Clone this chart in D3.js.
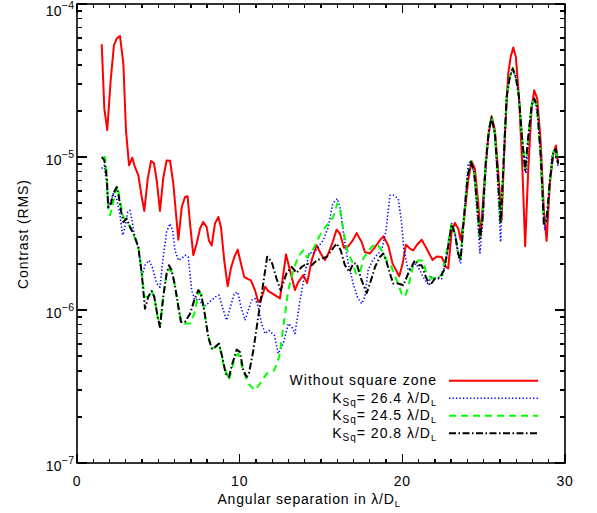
<!DOCTYPE html>
<html>
<head>
<meta charset="utf-8">
<script src="https://cdn.jsdelivr.net/npm/d3@7"></script>
<style>
  html, body { margin: 0; padding: 0; background: #fff; }
  svg text { font-family: "Liberation Sans", Arial, sans-serif; fill: #000; }
</style>
</head>
<body>
<svg id="chart" width="597" height="513"></svg>
<script>
// ---------- data ----------
const xTicks = [0, 10, 20, 30];
const yDecades = [1e-7, 1e-6, 1e-5, 1e-4];
const yTickExponents = ["−7", "−6", "−5", "−4"];

const seriesNames = ["Without square zone", "26.4", "24.5", "20.8"];

const withoutSquare = [[1.52,5.45e-5],[1.68,2.07e-5],[1.86,1.50e-5],[2.07,3.17e-5],[2.27,5.37e-5],[2.44,5.94e-5],[2.64,6.18e-5],[2.85,4.08e-5],[3.01,1.50e-5],[3.20,8.83e-6],[3.40,9.9e-6],[3.56,8.61e-6],[3.77,7.59e-6],[3.98,5.48e-6],[4.14,4.44e-6],[4.35,7.22e-6],[4.55,9.42e-6],[4.73,9.14e-6],[4.90,7.05e-6],[5.10,4.44e-6],[5.30,7.26e-6],[5.51,9.5e-6],[5.72,9.45e-6],[5.92,6.71e-6],[6.23,2.88e-6],[6.44,4.71e-6],[6.64,5.48e-6],[6.80,5.54e-6],[6.95,3.67e-6],[7.15,2.28e-6],[7.36,2.72e-6],[7.56,3.40e-6],[7.76,3.76e-6],[7.97,3.48e-6],[8.11,2.85e-6],[8.28,2.64e-6],[8.48,3.67e-6],[8.69,4.06e-6],[8.85,3.48e-6],[9.05,2.12e-6],[9.26,1.43e-6],[9.46,1.87e-6],[9.67,2.22e-6],[9.88,2.48e-6],[10.08,2.01e-6],[10.28,1.64e-6],[10.49,1.60e-6],[10.69,1.56e-6],[10.94,1.35e-6],[11.14,1.13e-6],[11.31,1.17e-6],[11.56,1.42e-6],[11.76,1.33e-6],[11.97,1.29e-6],[12.48,1.19e-6],[12.85,2.31e-6],[13.09,1.82e-6],[13.40,1.35e-6],[13.60,1.52e-6],[13.91,1.69e-6],[14.15,1.50e-6],[14.43,2.12e-6],[14.73,2.65e-6],[14.98,2.34e-6],[15.24,2.12e-6],[15.45,2.34e-6],[15.72,2.78e-6],[15.96,3.35e-6],[16.17,3.15e-6],[16.41,2.55e-6],[16.68,2.61e-6],[16.95,2.85e-6],[17.19,3.18e-6],[17.50,2.78e-6],[17.70,2.39e-6],[18.01,2.34e-6],[18.32,2.58e-6],[18.62,2.85e-6],[18.83,3.03e-6],[19.13,2.65e-6],[19.40,2.01e-6],[19.81,1.66e-6],[20.02,2.01e-6],[20.22,2.67e-6],[20.47,2.52e-6],[20.67,2.45e-6],[20.88,2.65e-6],[21.19,2.88e-6],[21.49,2.52e-6],[21.86,2.12e-6],[22.11,2.24e-6],[22.42,2.22e-6],[22.68,1.91e-6],[22.82,1.87e-6],[23.03,3.24e-6],[23.23,3.71e-6],[23.44,3.40e-6],[23.58,2.88e-6],[23.79,3.86e-6],[24.05,7.05e-6],[24.26,9.38e-6],[24.46,8.40e-6],[24.67,4.96e-6],[24.81,3.01e-6],[25.02,6.38e-6],[25.28,1.35e-5],[25.49,1.85e-5],[25.69,1.50e-5],[25.89,8.19e-6],[26.10,3.86e-6],[26.30,1.35e-5],[26.51,3.51e-5],[26.66,4.51e-5],[26.82,5.19e-5],[26.98,4.51e-5],[27.17,2.47e-5],[27.37,9.0e-6],[27.55,2.61e-6],[27.74,8.19e-6],[27.95,2.12e-5],[28.11,2.73e-5],[28.29,2.41e-5],[28.50,1.29e-5],[28.70,4.51e-6],[28.87,2.83e-6],[29.07,6.70e-6],[29.28,1.05e-5],[29.44,1.19e-5],[29.58,9.0e-6]];

const ksq264 = [[1.52,8.4e-6],[1.68,8.83e-6],[1.83,6.53e-6],[1.92,4.6e-6],[2.09,5.21e-6],[2.23,5.77e-6],[2.44,5.35e-6],[2.64,4.16e-6],[2.81,3.08e-6],[2.95,3.49e-6],[3.12,4.37e-6],[3.26,4.48e-6],[3.40,3.76e-6],[3.56,2.93e-6],[3.77,2.58e-6],[3.98,1.64e-6],[4.18,1.96e-6],[4.43,2.11e-6],[4.63,1.91e-6],[4.90,1.49e-6],[5.10,1.41e-6],[5.30,2.22e-6],[5.51,3.24e-6],[5.72,3.67e-6],[5.88,3.32e-6],[6.02,2.46e-6],[6.23,2.11e-6],[6.44,2.17e-6],[6.64,2.28e-6],[6.84,2.22e-6],[7.05,1.35e-6],[7.25,1.16e-6],[7.50,1.19e-6],[7.76,1.05e-6],[8.03,1.1e-6],[8.28,1.16e-6],[8.52,1.22e-6],[8.73,1.25e-6],[8.93,1.05e-6],[9.20,8.57e-7],[9.40,1.02e-6],[9.67,1.28e-6],[9.88,1.31e-6],[10.08,1.05e-6],[10.33,8.57e-7],[10.53,9.95e-7],[10.74,1.16e-6],[10.94,1.19e-6],[11.14,1.05e-6],[11.35,8.15e-7],[11.56,7.01e-7],[11.80,7.37e-7],[12.13,6.83e-7],[12.37,5.19e-7],[12.68,6.03e-7],[12.99,8.15e-7],[13.20,7.74e-7],[13.40,7.01e-7],[13.71,1.16e-6],[14.01,1.73e-6],[14.28,2.39e-6],[14.52,2.34e-6],[14.83,2.58e-6],[15.14,2.86e-6],[15.45,3.49e-6],[15.72,4.96e-6],[16.00,5.35e-6],[16.21,4.48e-6],[16.41,3.0e-6],[16.68,2.01e-6],[16.98,1.49e-6],[17.23,1.22e-6],[17.50,1.10e-6],[17.70,1.22e-6],[17.90,1.82e-6],[18.17,2.11e-6],[18.42,2.28e-6],[18.73,2.46e-6],[19.00,3.32e-6],[19.24,5.62e-6],[19.48,5.62e-6],[19.75,5.35e-6],[19.96,3.67e-6],[20.10,2.46e-6],[20.36,1.82e-6],[20.57,1.91e-6],[20.84,2.01e-6],[21.08,1.82e-6],[21.28,1.64e-6],[21.53,1.49e-6],[21.80,1.64e-6],[22.11,1.60e-6],[22.42,1.60e-6],[22.72,2.18e-6],[23.03,3.67e-6],[23.23,3.24e-6],[23.44,2.22e-6],[23.58,2.01e-6],[23.79,4.05e-6],[24.05,9.06e-6],[24.22,9.37e-6],[24.40,7.8e-6],[24.60,4.27e-6],[24.77,2.36e-6],[24.97,4.05e-6],[25.18,1.0e-5],[25.38,1.65e-5],[25.49,1.81e-5],[25.69,1.35e-5],[25.89,6.05e-6],[26.04,2.78e-6],[26.24,9.06e-6],[26.45,2.87e-5],[26.66,3.51e-5],[26.82,3.69e-5],[27.03,3.17e-5],[27.23,2.12e-5],[27.43,1.11e-5],[27.60,7.8e-6],[27.80,1.50e-5],[28.01,2.29e-5],[28.17,2.29e-5],[28.35,1.74e-5],[28.56,7.4e-6],[28.76,3.32e-6],[28.97,4.96e-6],[29.18,1.0e-5],[29.38,1.13e-5],[29.58,8.6e-6]];

const ksq245 = [[1.56,9.9e-6],[1.72,1.0e-5],[1.83,7.8e-6],[1.92,4.48e-6],[2.03,4.16e-6],[2.17,4.7e-6],[2.34,5.77e-6],[2.50,6.43e-6],[2.64,5.21e-6],[2.85,4.05e-6],[3.05,3.86e-6],[3.36,3.32e-6],[3.77,2.58e-6],[3.98,1.82e-6],[4.14,1.22e-6],[4.38,1.22e-6],[4.59,1.33e-6],[4.75,1.22e-6],[4.96,9.0e-7],[5.10,7.74e-7],[5.30,1.22e-6],[5.51,1.73e-6],[5.65,1.85e-6],[5.82,1.77e-6],[6.02,1.45e-6],[6.23,1.05e-6],[6.44,8.15e-7],[6.70,8.15e-7],[6.95,8.15e-7],[7.21,9.47e-7],[7.46,1.28e-6],[7.62,1.28e-6],[7.82,9.95e-7],[8.07,6.66e-7],[8.28,5.6e-7],[8.48,5.7e-7],[8.73,6.03e-7],[8.99,4.47e-7],[9.34,3.47e-7],[9.71,4.93e-7],[9.91,5.19e-7],[10.22,4.04e-7],[10.53,3.3e-7],[10.94,2.99e-7],[11.25,3.3e-7],[11.66,3.84e-7],[12.13,4.04e-7],[12.43,4.93e-7],[12.68,7.74e-7],[12.99,1.35e-6],[13.29,1.82e-6],[13.60,2.22e-6],[13.91,2.46e-6],[14.15,2.2e-6],[14.49,2.46e-6],[14.83,2.93e-6],[15.10,3.32e-6],[15.45,3.67e-6],[15.75,4.05e-6],[16.00,4.96e-6],[16.16,4.6e-6],[16.37,3.32e-6],[16.61,2.46e-6],[16.88,2.11e-6],[17.15,1.73e-6],[17.39,1.73e-6],[17.60,2.17e-6],[17.81,2.34e-6],[18.11,2.58e-6],[18.42,2.72e-6],[18.73,2.46e-6],[19.04,2.11e-6],[19.34,1.91e-6],[19.65,1.56e-6],[19.96,1.28e-6],[20.16,1.22e-6],[20.36,1.41e-6],[20.67,1.96e-6],[20.98,2.11e-6],[21.25,2.11e-6],[21.49,1.73e-6],[21.80,1.60e-6],[22.11,1.66e-6],[22.42,1.68e-6],[22.72,2.4e-6],[23.03,3.7e-6],[23.23,3.16e-6],[23.44,2.34e-6],[23.58,2.11e-6],[23.79,4.05e-6],[24.01,7.4e-6],[24.22,9.4e-6],[24.40,8.19e-6],[24.60,4.96e-6],[24.77,2.93e-6],[24.94,4.05e-6],[25.12,9.06e-6],[25.32,1.50e-5],[25.49,1.85e-5],[25.69,1.42e-5],[25.89,7.05e-6],[26.04,3.67e-6],[26.20,8.19e-6],[26.41,2.47e-5],[26.61,3.33e-5],[26.78,3.85e-5],[26.98,3.33e-5],[27.17,2.47e-5],[27.37,1.29e-5],[27.55,8.19e-6],[27.74,1.35e-5],[27.95,2.18e-5],[28.11,2.45e-5],[28.29,2.12e-5],[28.50,1.05e-5],[28.70,3.67e-6],[28.87,3.86e-6],[29.07,7.05e-6],[29.28,1.08e-5],[29.44,1.13e-5],[29.58,9.06e-6]];

const ksq208 = [[1.52,1.0e-5],[1.68,9.5e-6],[1.83,7.4e-6],[1.92,4.7e-6],[2.09,4.96e-6],[2.23,5.77e-6],[2.44,6.37e-6],[2.54,5.77e-6],[2.70,4.48e-6],[2.85,3.76e-6],[3.05,3.96e-6],[3.26,3.49e-6],[3.52,3.08e-6],[3.77,2.58e-6],[3.98,1.73e-6],[4.18,1.02e-6],[4.38,1.22e-6],[4.59,1.33e-6],[4.75,1.22e-6],[4.96,9.0e-7],[5.10,7.74e-7],[5.30,1.22e-6],[5.51,1.73e-6],[5.65,1.96e-6],[5.82,1.82e-6],[6.02,1.45e-6],[6.23,1.05e-6],[6.39,8.35e-7],[6.64,8.35e-7],[6.95,9.47e-7],[7.21,1.16e-6],[7.46,1.35e-6],[7.62,1.28e-6],[7.82,9.95e-7],[8.07,6.66e-7],[8.28,5.6e-7],[8.48,5.7e-7],[8.73,6.03e-7],[8.93,4.93e-7],[9.14,3.84e-7],[9.34,3.65e-7],[9.55,4.47e-7],[9.82,5.51e-7],[10.02,5.31e-7],[10.22,4.04e-7],[10.43,3.65e-7],[10.57,3.84e-7],[10.84,5.45e-7],[11.14,9.0e-7],[11.45,1.49e-6],[11.69,2.23e-6],[11.97,2.06e-6],[12.27,1.60e-6],[12.52,1.35e-6],[12.89,1.75e-6],[13.20,1.91e-6],[13.50,1.75e-6],[13.81,1.91e-6],[14.12,2.01e-6],[14.43,1.96e-6],[14.73,2.11e-6],[15.04,2.17e-6],[15.35,2.22e-6],[15.65,2.46e-6],[15.96,2.72e-6],[16.21,2.46e-6],[16.47,1.96e-6],[16.74,1.77e-6],[16.98,2.01e-6],[17.19,2.01e-6],[17.50,1.56e-6],[17.81,1.29e-6],[18.01,1.49e-6],[18.32,1.91e-6],[18.62,2.22e-6],[18.83,2.34e-6],[19.03,2.06e-6],[19.24,1.73e-6],[19.44,1.49e-6],[19.75,1.49e-6],[20.06,1.45e-6],[20.36,1.73e-6],[20.57,1.91e-6],[20.77,2.11e-6],[20.98,1.96e-6],[21.19,1.96e-6],[21.45,1.64e-6],[21.70,1.45e-6],[22.00,1.60e-6],[22.31,1.63e-6],[22.56,1.82e-6],[22.76,2.39e-6],[23.03,3.63e-6],[23.23,3.16e-6],[23.44,2.34e-6],[23.58,2.11e-6],[23.79,4.05e-6],[24.01,7.4e-6],[24.22,9.27e-6],[24.40,8.19e-6],[24.60,4.96e-6],[24.77,2.93e-6],[24.94,4.05e-6],[25.12,9.06e-6],[25.32,1.50e-5],[25.49,1.81e-5],[25.69,1.42e-5],[25.89,7.05e-6],[26.04,3.67e-6],[26.20,8.19e-6],[26.41,2.47e-5],[26.61,3.33e-5],[26.78,3.78e-5],[26.98,3.33e-5],[27.17,2.47e-5],[27.37,1.29e-5],[27.55,8.19e-6],[27.74,1.35e-5],[27.95,2.18e-5],[28.11,2.41e-5],[28.29,2.12e-5],[28.50,1.05e-5],[28.70,3.67e-6],[28.87,3.86e-6],[29.07,7.05e-6],[29.28,1.08e-5],[29.44,1.13e-5],[29.58,9.06e-6]];

// ---------- layout ----------
const W = 597, H = 513;
const m = { left: 77, right: 565, top: 4, bottom: 463 };
const svg = d3.select("#chart");
svg.append("rect").attr("width", W).attr("height", H).attr("fill", "#fff");

const x = d3.scaleLinear().domain([0, 30]).range([m.left, m.right]);
const y = d3.scaleLog().domain([1e-7, 1e-4]).range([m.bottom, m.top]);

// minor ticks
const xMinor = d3.range(0, 31, 1);
const yMinor = [];
[1e-7, 1e-6, 1e-5].forEach(d => { for (let k = 2; k <= 9; k++) yMinor.push(d * k); });

const axisG = svg.append("g").attr("stroke", "#000").attr("stroke-width", 1.3).attr("shape-rendering", "crispEdges");

xMinor.forEach(v => {
  const major = xTicks.includes(v);
  const L = major ? 9 : 4;
  axisG.append("line").attr("x1", x(v)).attr("x2", x(v)).attr("y1", m.bottom).attr("y2", m.bottom - L);
  axisG.append("line").attr("x1", x(v)).attr("x2", x(v)).attr("y1", m.top).attr("y2", m.top + L);
});
yDecades.forEach(v => {
  axisG.append("line").attr("x1", m.left).attr("x2", m.left + 10).attr("y1", y(v)).attr("y2", y(v));
  axisG.append("line").attr("x1", m.right).attr("x2", m.right - 10).attr("y1", y(v)).attr("y2", y(v));
});
yMinor.forEach(v => {
  axisG.append("line").attr("x1", m.left).attr("x2", m.left + 5).attr("y1", y(v)).attr("y2", y(v));
  axisG.append("line").attr("x1", m.right).attr("x2", m.right - 5).attr("y1", y(v)).attr("y2", y(v));
});
svg.append("rect").attr("x", m.left).attr("y", m.top)
  .attr("width", m.right - m.left).attr("height", m.bottom - m.top)
  .attr("fill", "none").attr("stroke", "#000").attr("stroke-width", 1.6);

// x tick labels
svg.append("g").selectAll("text").data(xTicks).join("text")
  .attr("x", d => x(d)).attr("y", 486).attr("text-anchor", "middle")
  .attr("font-size", 14).attr("letter-spacing", 0.8).text(d => d);

// y tick labels
yDecades.forEach((v, i) => {
  const off = (i === yDecades.length - 1) ? 11.5 : 8;
  const t = svg.append("text").attr("x", 75).attr("y", y(v) + off).attr("text-anchor", "end").attr("font-size", 14);
  t.append("tspan").text("10");
  t.append("tspan").attr("dy", -7).attr("font-size", 10.5).attr("letter-spacing", 0.8).text(yTickExponents[i]);
});

// axis titles
const xt = svg.append("text").attr("x", 309).attr("y", 504).attr("text-anchor", "middle")
  .attr("font-size", 14).attr("letter-spacing", 0.8);
xt.append("tspan").text("Angular separation in λ/D");
xt.append("tspan").attr("dy", 3).attr("font-size", 9).text("L");

svg.append("text").attr("transform", "translate(28,234) rotate(-90)")
  .attr("text-anchor", "middle").attr("font-size", 14).attr("letter-spacing", 0.9).text("Contrast (RMS)");

// ---------- series ----------
const styles = [
  { data: withoutSquare, color: "#ff0000", dash: null, width: 2 },
  { data: ksq264, color: "#0000ff", dash: "1.3,2.2", width: 1.6 },
  { data: ksq245, color: "#00ff00", dash: "7,5", width: 2 },
  { data: ksq208, color: "#000000", dash: "7,2.5,1.5,2.5", width: 2 }
];
const line = d3.line().x(d => x(d[0])).y(d => y(d[1]));
const plotG = svg.append("g");
styles.forEach(s => {
  plotG.append("path").datum(s.data).attr("d", line)
    .attr("fill", "none").attr("stroke", s.color).attr("stroke-width", s.width)
    .attr("stroke-dasharray", s.dash).attr("stroke-linejoin", "round");
});

// ---------- legend ----------
const legY = [380.7, 398.3, 415.7, 433.3];
const legG = svg.append("g");
styles.forEach((s, i) => {
  const t = legG.append("text").attr("x", 437).attr("y", legY[i] + 4.5).attr("text-anchor", "end")
    .attr("font-size", 14).attr("letter-spacing", 1);
  if (i === 0) {
    t.text(seriesNames[0]);
  } else {
    t.append("tspan").text("K");
    t.append("tspan").attr("dy", 3).attr("font-size", 10).text("Sq");
    t.append("tspan").attr("dy", -3).text("=  " + seriesNames[i] + "  λ/D");
    t.append("tspan").attr("dy", 3).attr("font-size", 9).text("L");
  }
  legG.append("line").attr("x1", 449).attr("x2", 538).attr("y1", legY[i]).attr("y2", legY[i])
    .attr("stroke", s.color).attr("stroke-width", s.width).attr("stroke-dasharray", s.dash);
});
</script>
</body>
</html>
